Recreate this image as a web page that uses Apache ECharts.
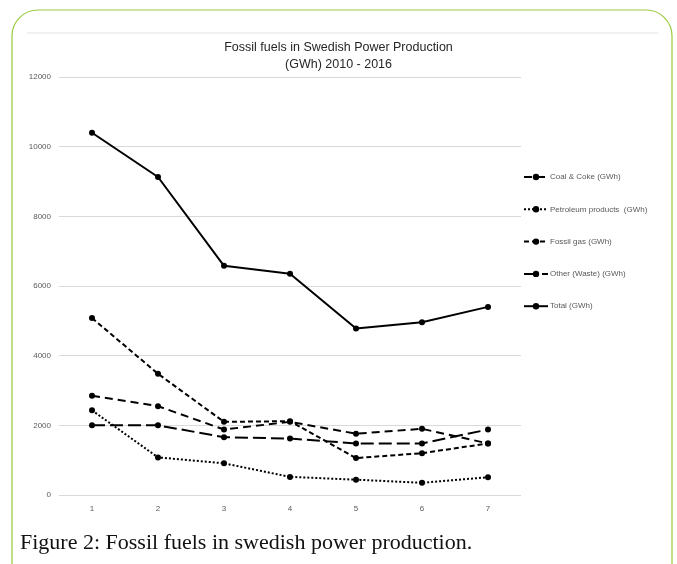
<!DOCTYPE html>
<html><head><meta charset="utf-8">
<script src="https://cdn.jsdelivr.net/npm/echarts@6/dist/echarts.min.js"></script>
<style>html,body{margin:0;padding:0;background:#fff}#c{width:677px;height:564px}</style>
</head><body><div id="c"></div>
<script>
const categories = ['1','2','3','4','5','6','7'];
const coal = [2850, 2550, 1880, 2100, 1760, 1900, 1480];
const petroleum = [2430, 1080, 910, 520, 440, 350, 510];
const fossilGas = [5080, 3480, 2100, 2120, 1060, 1200, 1480];
const otherWaste = [2000, 2000, 1660, 1620, 1480, 1480, 1880];
const total = [10400, 9130, 6580, 6350, 4780, 4960, 5400];
const seriesNames = ['Coal & Coke (GWh)', 'Petroleum products  (GWh)', 'Fossil gas (GWh)', 'Other (Waste) (GWh)', 'Total (GWh)'];
const titleText = 'Fossil fuels in Swedish Power Production\n(GWh) 2010 - 2016';
const captionText = 'Figure 2: Fossil fuels in swedish power production.';

const chart = echarts.init(document.getElementById('c'), null, {renderer: 'canvas'});
function mk(name, data, dash) {
  return {
    name: name, type: 'line', data: data, symbol: 'circle', symbolSize: 6,
    itemStyle: {color: '#000'},
    lineStyle: {color: '#000', width: 2, type: dash},
    emphasis: {disabled: true}, animation: false
  };
}
chart.setOption({
  animation: false,
  title: {
    text: titleText, left: 'center', top: 34,
    textStyle: {fontFamily: 'Liberation Sans', fontSize: 12.5, fontWeight: 'normal', color: '#262626', lineHeight: 17}
  },
  grid: {left: 59, right: 156, top: 77, bottom: 69},
  legend: {
    orient: 'vertical', left: 518, top: 168, itemGap: 24.3, itemWidth: 24, itemHeight: 8,
    data: seriesNames,
    textStyle: {fontFamily: 'Liberation Sans', fontSize: 8, color: '#595959', padding: [0, 0, 0, -3]}
  },
  xAxis: {
    type: 'category', data: categories, boundaryGap: true,
    axisLine: {show: false}, axisTick: {show: false},
    axisLabel: {fontFamily: 'Liberation Sans', fontSize: 8, color: '#595959', margin: 10}
  },
  yAxis: {
    type: 'value', min: 0, max: 12000, interval: 2000,
    splitLine: {lineStyle: {color: '#d9d9d9', width: 1}},
    axisLabel: {fontFamily: 'Liberation Sans', fontSize: 8, color: '#595959', margin: 8, formatter: function (v) { return String(v); }}
  },
  graphic: [
    {type: 'rect', shape: {x: 12, y: 10, width: 660, height: 600, r: 26}, style: {fill: 'none', stroke: '#9bc93f', lineWidth: 1.2}, z: -1},
    {type: 'line', shape: {x1: 27, y1: 33, x2: 658, y2: 33}, style: {stroke: '#e3e3e3', lineWidth: 1}},
    {type: 'text', left: 20, top: 532, style: {text: captionText, font: '22px "Liberation Serif"', fill: '#111'}}
  ],
  series: [
    mk(seriesNames[0], coal, [8, 5]),
    mk(seriesNames[1], petroleum, [2, 2]),
    mk(seriesNames[2], fossilGas, [5, 3]),
    mk(seriesNames[3], otherWaste, [13, 5]),
    mk(seriesNames[4], total, 'solid')
  ]
});
</script></body></html>
